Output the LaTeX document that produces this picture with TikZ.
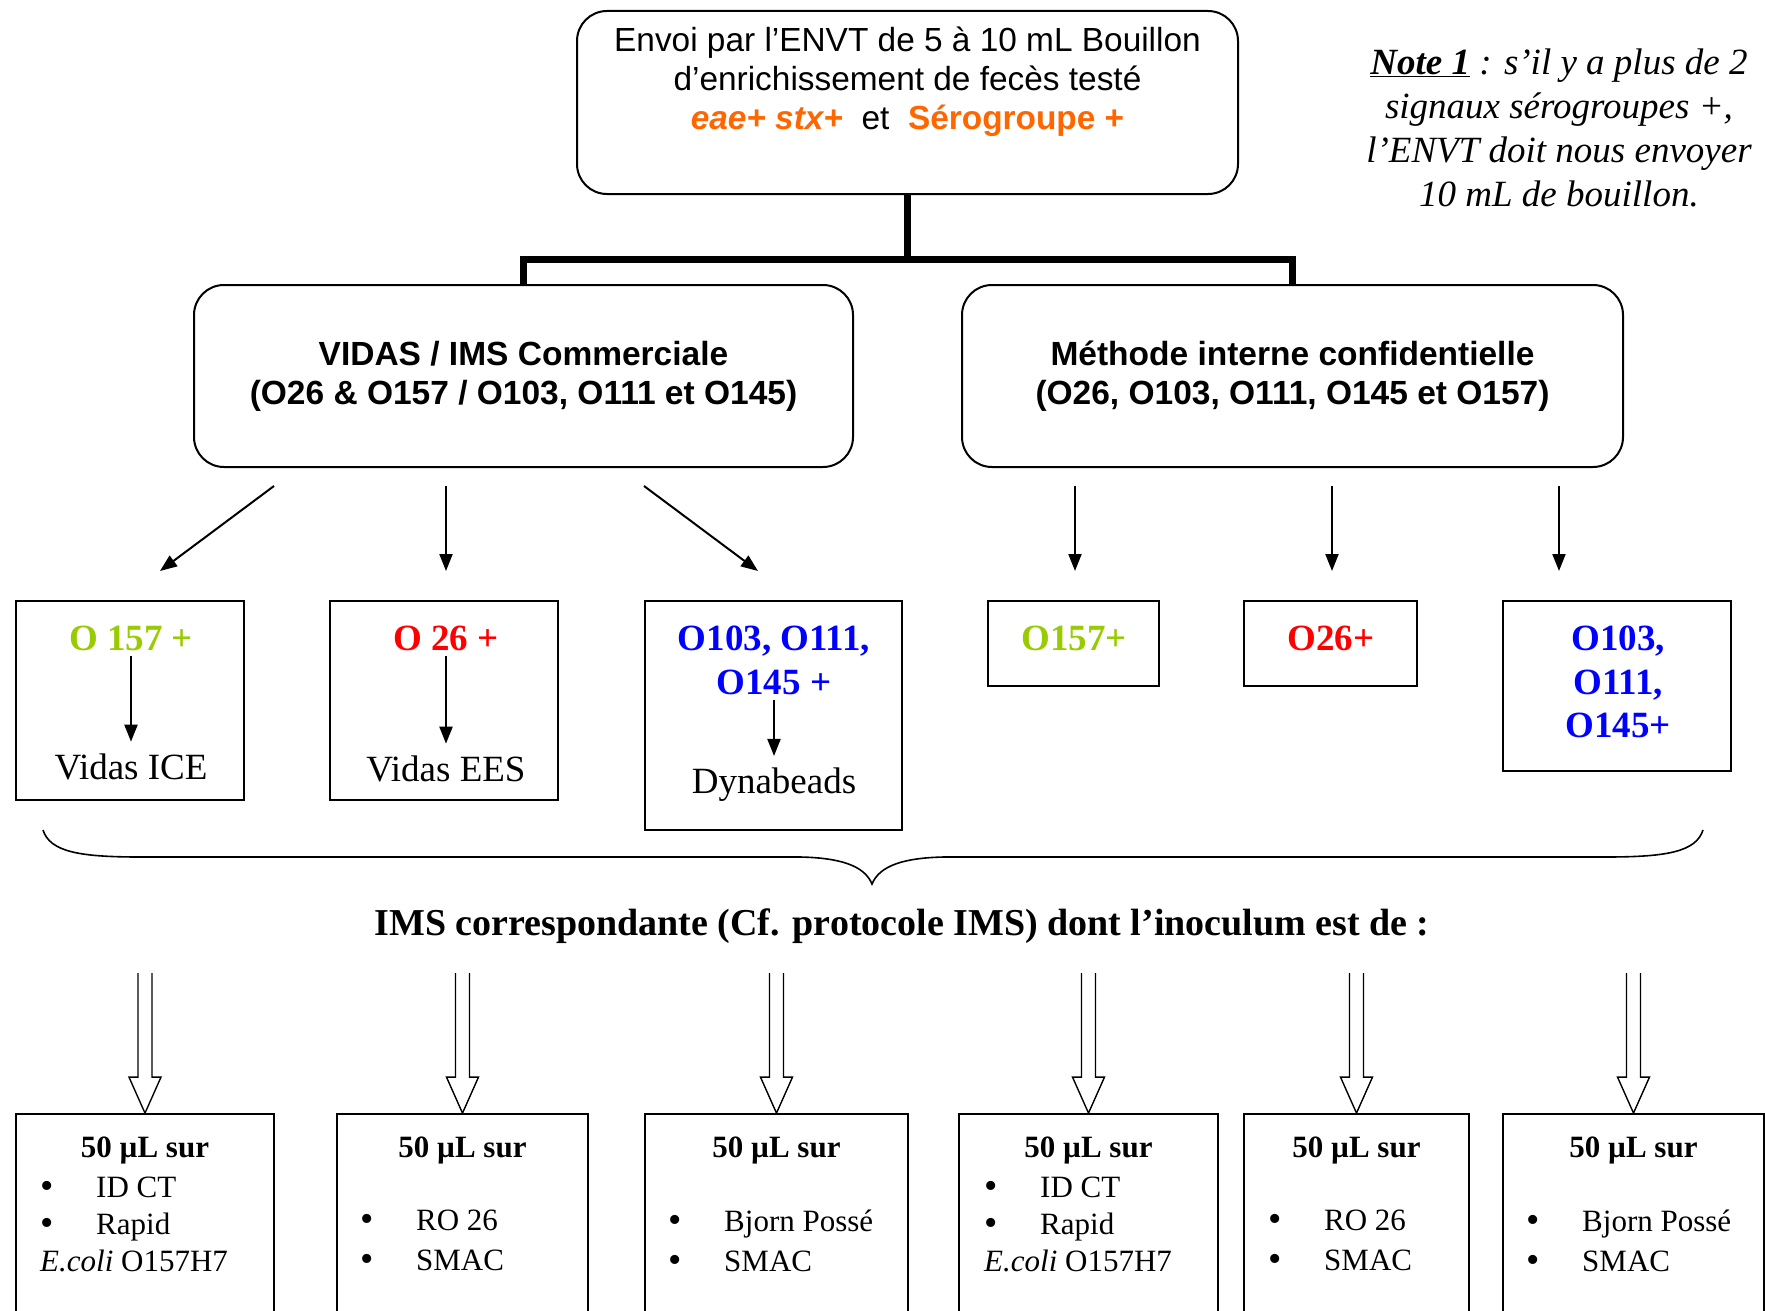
\documentclass[tikz,border=0pt]{standalone}
\usepackage{fontspec}
\setmainfont{Liberation Serif}
\setsansfont{Liberation Sans}
\usetikzlibrary{positioning,calc,arrows.meta}
\definecolor{envtorange}{RGB}{255,102,0}
\definecolor{ogreen}{RGB}{153,204,0}
\newcommand{\fsz}[2]{\fontsize{#1}{#2}\selectfont}
\newcommand{\itm}[1]{\makebox[56pt][l]{\raisebox{-1pt}{\fontsize{38}{37}\selectfont•}}#1}

\begin{document}
\begin{tikzpicture}[
    x=1pt, y=-1pt,
    rbox/.style={draw, line width=2pt, rounded corners=30pt, align=center, inner sep=0pt},
    sbox/.style={draw, line width=1.8pt, inner sep=0pt},
    txt/.style={inner sep=0pt, align=center, font=\fsz{37}{44}},
    lst/.style={inner sep=0pt, anchor=west, align=left, font=\fsz{31}{37}},
    tree/.style={line width=7pt},
    arr/.style={->, >={Triangle[length=17pt, width=13pt]}, line width=2pt},
    hollow/.style={line width=1.4pt}
]
    \clip (0,0) rectangle (1765,1311);

    % Top box and note
    \node[rbox, minimum width=661pt, minimum height=183pt, font=\sffamily\fsz{33.4}{39}] (top) at (907.5,102.5)
        {Envoi par l’ENVT de 5 à 10 mL Bouillon\\ d’enrichissement de fecès testé\\
         {\color{envtorange}\bfseries\itshape eae+ stx+}~ et~ {\color{envtorange}\bfseries Sérogroupe +}\\[10pt]\mbox{}};
    \node[txt, font=\fsz{37}{44}\itshape] (note) at (1559,128)
        {\underline{\textbf{Note 1}} : s’il y a plus de 2\\ signaux sérogroupes +,\\ l’ENVT doit nous envoyer\\ 10 mL de bouillon.};

    % Methods
    \node[rbox, minimum width=659pt, minimum height=182pt, font=\sffamily\bfseries\fsz{33.5}{39}] (m1) at (523.5,376)
        {VIDAS / IMS Commerciale\\ (O26 \& O157 / O103, O111 et O145)};
    \node[rbox, minimum width=661pt, minimum height=182pt, font=\sffamily\bfseries\fsz{33.5}{39}] (m2) at (1292.5,376)
        {Méthode interne confidentielle\\ (O26, O103, O111, O145 et O157)};

    \coordinate (fork) at (907.5,259);
    \draw[tree] (top.south) -- (fork);
    \draw[tree] (m1.north) |- (fork) -| (m2.north);

    % Serogroup boxes
    \node[sbox, minimum width=228pt, minimum height=199pt] (b1) at (130,700.5) {};
    \node[sbox, minimum width=228pt, minimum height=199pt] (b2) at (444,700.5) {};
    \node[sbox, minimum width=257pt, minimum height=229pt] (b3) at (773.5,715.5) {};
    \node[sbox, minimum width=171pt, minimum height=85pt] (b4) at (1073.5,643.5) {};
    \node[sbox, minimum width=173pt, minimum height=85pt] (b5) at (1330.5,643.5) {};
    \node[sbox, minimum width=228pt, minimum height=170pt] (b6) at (1617,686) {};

    \node[txt, text=ogreen, font=\bfseries\fsz{37}{44}] (t1) at (131,638) {O 157 +};
    \node[txt] (v1) at (131,767) {Vidas ICE};
    \node[txt, text=red, font=\bfseries\fsz{37}{44}] (t2) at (446,638) {O 26 +};
    \node[txt] (v2) at (446,769) {Vidas EES};
    \node[txt, text=blue, font=\bfseries\fsz{37}{44}] (t3) at (774,660) {O103, O111,\\ O145 +};
    \node[txt] (v3) at (774,785) {Dynabeads};
    \node[txt, text=ogreen, font=\bfseries\fsz{37}{44}] (t4) at (1074,638) {O157+};
    \node[txt, text=red, font=\bfseries\fsz{37}{44}] (t5) at (1331,638) {O26+};
    \node[txt, text=blue, font=\bfseries\fsz{37}{43.5}] (t6) at (1618,682) {O103,\\ O111,\\ O145+};

    \draw[arr, shorten <=5pt, shorten >=12pt] (t1.south) -- (v1.north);
    \draw[arr, shorten <=5pt, shorten >=12pt] (t2.south) -- (v2.north);
    \draw[arr, shorten <=5pt, shorten >=12pt] (t3.south) -- (v3.north);

    % Arrows from the methods
    \coordinate (s1) at (274,486);  \coordinate (e1) at (160,571);
    \coordinate (s2) at (446,486);  \coordinate (e2) at (446,571);
    \coordinate (s3) at (644,486);  \coordinate (e3) at (758,571);
    \coordinate (s4) at (1075,486); \coordinate (e4) at (1075,571);
    \coordinate (s5) at (1332,486); \coordinate (e5) at (1332,571);
    \coordinate (s6) at (1559,486); \coordinate (e6) at (1559,571);
    \foreach \i in {1,...,6}
        \draw[arr] (s\i) -- (e\i);

    % Brace and IMS
    \draw[line width=1.6pt] (43,830) .. controls (50,852) and (80,857) .. (140,857) -- (800,857)
        .. controls (850,858) and (866,870) .. (872,884) .. controls (878,870) and (894,858) .. (944,857)
        -- (1606,857) .. controls (1666,857) and (1696,852) .. (1703,830);
    \node[txt, font=\bfseries\fsz{38}{40}] (ims) at (902,926) {IMS correspondante (Cf. protocole IMS) dont l’inoculum est de :};

    % Plating boxes
    \node[sbox, minimum width=258pt, minimum height=246pt] (c1) at (145,1237) {};
    \node[sbox, minimum width=251pt, minimum height=246pt] (c2) at (462.5,1237) {};
    \node[sbox, minimum width=263pt, minimum height=246pt] (c3) at (776.5,1237) {};
    \node[sbox, minimum width=259pt, minimum height=246pt] (c4) at (1088.5,1237) {};
    \node[sbox, minimum width=225pt, minimum height=246pt] (c5) at (1356.5,1237) {};
    \node[sbox, minimum width=261pt, minimum height=246pt] (c6) at (1633.5,1237) {};

    \foreach \i in {1,...,6} {
        \node[txt, font=\bfseries\fsz{31}{37}] (h\i) at ($(c\i.north)+(0,37)$) {50 µL sur};
        \draw[hollow] ($(c\i.north)+(-7,-140)$) -- ++(0,104) -- ++(-9,0) -- (c\i.north)
            -- ++(16,-36) -- ++(-9,0) -- ++(0,-104);
    }

    \node[lst] (l1) at (40,1224) {\itm{ID CT}\\ \itm{Rapid}\\ \textit{E.coli} O157H7};
    \node[lst, font=\fsz{31}{40}] (l2) at (360,1241) {\itm{RO 26}\\ \itm{SMAC}};
    \node[lst, font=\fsz{31}{40}] (l3) at (668,1241) {\itm{Bjorn Possé}\\ \itm{SMAC}};
    \node[lst] (l4) at (984,1224) {\itm{ID CT}\\ \itm{Rapid}\\ \textit{E.coli} O157H7};
    \node[lst, font=\fsz{31}{40}] (l5) at (1268,1241) {\itm{RO 26}\\ \itm{SMAC}};
    \node[lst, font=\fsz{31}{40}] (l6) at (1526,1241) {\itm{Bjorn Possé}\\ \itm{SMAC}};
\end{tikzpicture}
\end{document}
